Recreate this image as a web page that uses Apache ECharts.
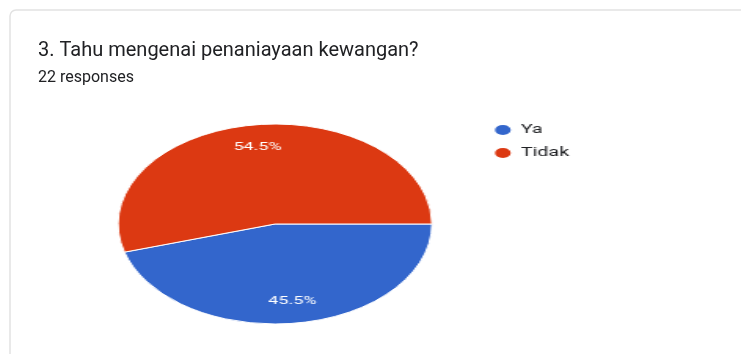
<!DOCTYPE html>
<html>
<head>
<meta charset="utf-8">
<script src="https://cdn.jsdelivr.net/npm/echarts@6/dist/echarts.min.js"></script>
<style>
  html, body { margin: 0; padding: 0; background: #ffffff; overflow: hidden; }
  #wrap { width: 741px; height: 354px; position: relative; overflow: hidden; }
  #base { position: absolute; left: 0; top: 0; width: 741px; height: 354px; }
  /* The pie layer is laid out narrow and widened horizontally into an oval */
  #pie { position: absolute; left: 0; top: 0; height: 354px; transform-origin: 0 0; }
</style>
</head>
<body>
<div id="wrap"><div id="base"></div><div id="pie"></div></div>
<script>
// Survey question and answers
const titleText = '3. Tahu mengenai penaniayaan kewangan?';
const subtitleText = '22 responses';
const categories = ['Ya', 'Tidak'];
const counts = [10, 12];
const colors = ['#3366cc', '#dc3912'];

const STRETCH = 1.57;
const pieEl = document.getElementById('pie');
pieEl.style.width = (741 / STRETCH) + 'px';
pieEl.style.transform = 'scaleX(' + STRETCH + ')';

// Card frame and headings
const base = echarts.init(document.getElementById('base'), null, { renderer: 'canvas' });
base.setOption({
  backgroundColor: '#ffffff',
  animation: false,
  graphic: [{
    type: 'rect',
    shape: { x: 10, y: 10, width: 800, height: 400, r: 6 },
    style: { fill: 'none', stroke: '#e2e2e2', lineWidth: 1.5 },
    silent: true
  }],
  title: [
    {
      text: titleText, left: 33, top: 36,
      textStyle: { fontFamily: 'Roboto', fontSize: 20, fontWeight: 'normal', color: '#202124' }
    },
    {
      text: subtitleText, left: 33, top: 65,
      textStyle: { fontFamily: 'Roboto', fontSize: 16, fontWeight: 'normal', color: '#202124' }
    }
  ]
});

// Pie with legend
const pieData = categories.map((name, i) => ({ name, value: counts[i], itemStyle: { color: colors[i] } }));
const centerPos = [275 / STRETCH, 224];
const R = 100;

const pie = echarts.init(pieEl, null, { renderer: 'canvas' });
pie.setOption({
  backgroundColor: 'transparent',
  animation: false,
  legend: {
    orient: 'vertical', left: 484 / STRETCH, top: 118,
    icon: 'circle', symbolKeepAspect: false,
    itemWidth: 13, itemHeight: 12, itemGap: 9,
    data: categories,
    textStyle: { fontFamily: 'Roboto', fontSize: 12.5, color: '#202124' }
  },
  series: [
    {
      type: 'pie', center: centerPos, radius: R,
      startAngle: 0, clockwise: true,
      data: pieData,
      label: { show: false }, labelLine: { show: false },
      itemStyle: { borderColor: '#ffffff', borderWidth: 1 },
      emphasis: { disabled: true }
    },
    {
      // percentage labels sit in the outer part of each slice
      type: 'pie', center: centerPos, radius: [R * 0.5, R],
      startAngle: 0, clockwise: true, silent: true,
      percentPrecision: 1,
      data: pieData.map(d => ({ name: d.name, value: d.value, itemStyle: { color: 'rgba(0,0,0,0)' } })),
      itemStyle: { borderWidth: 0 },
      label: {
        show: true, position: 'inside', formatter: '{d}%',
        fontFamily: 'Roboto', fontSize: 11.5, color: '#ffffff'
      },
      labelLine: { show: false },
      emphasis: { disabled: true }
    }
  ]
});
</script>
</body>
</html>
